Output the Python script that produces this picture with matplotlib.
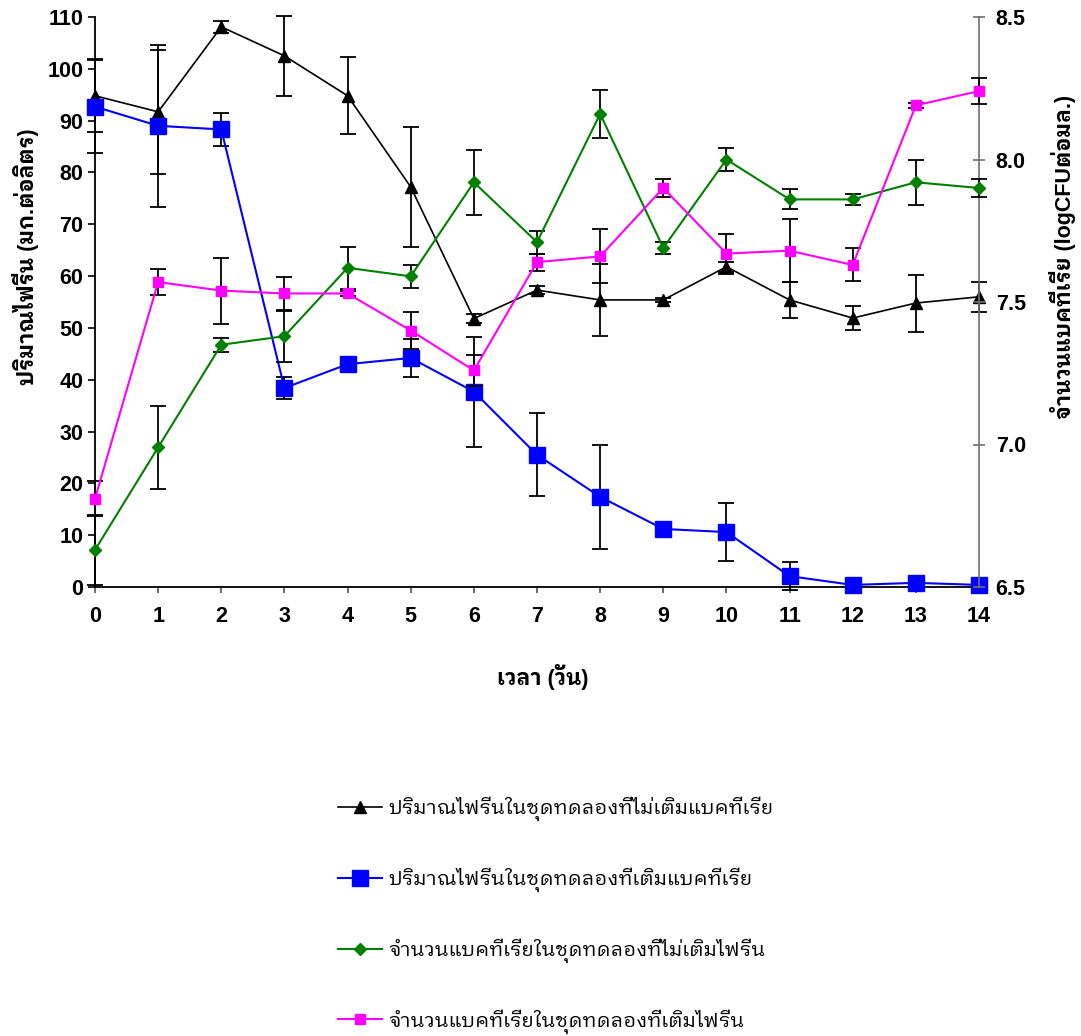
import matplotlib
matplotlib.use("Agg")
import matplotlib.pyplot as plt
from matplotlib.lines import Line2D
from matplotlib.ticker import MultipleLocator, FormatStrFormatter

# ---------------- data ----------------
days = list(range(15))
fibrin_no_bact = [94.8, 91.7, 108.1, 102.5, 94.8, 77.2, 51.8, 57.3, 55.4, 55.4, 61.8, 55.4, 51.9, 54.8, 56.0]
fibrin_no_bact_err = [7.0, 12.0, 1.2, 7.7, 7.4, 11.5, 0.8, 0.8, 7.0, 0.4, 1.0, 3.5, 2.3, 5.5, 2.9]
fibrin_bact = [92.7, 89.0, 88.3, 38.4, 43.0, 44.2, 37.7, 25.5, 17.4, 11.2, 10.6, 2.1, 0.4, 0.8, 0.4]
fibrin_bact_err = [9.0, 15.6, 3.2, 2.1, 1.0, 3.7, 10.6, 8.0, 10.0, 0.3, 5.6, 2.7, 0.2, 0.2, 0.2]
bact_no_fibrin = [6.63, 6.99, 7.35, 7.38, 7.62, 7.59, 7.92, 7.71, 8.16, 7.69, 8.00, 7.86, 7.86, 7.92, 7.90]
bact_no_fibrin_err = [0.124, 0.146, 0.025, 0.09, 0.073, 0.04, 0.115, 0.04, 0.085, 0.02, 0.042, 0.035, 0.02, 0.078, 0.033]
bact_fibrin = [6.81, 7.57, 7.54, 7.53, 7.53, 7.40, 7.26, 7.64, 7.66, 7.90, 7.67, 7.68, 7.63, 8.19, 8.24]
bact_fibrin_err = [0.062, 0.047, 0.116, 0.057, 0.01, 0.064, 0.055, 0.03, 0.095, 0.03, 0.07, 0.11, 0.058, 0.01, 0.045]

labels = [
    "ปริมาณไฟรีนในชุดทดลองที่ไม่เติมแบคทีเรีย",
    "ปริมาณไฟรีนในชุดทดลองที่เติมแบคทีเรีย",
    "จำนวนแบคทีเรียในชุดทดลองที่ไม่เติมไฟรีน",
    "จำนวนแบคทีเรียในชุดทดลองที่เติมไฟรีน",
]
xlabel = "เวลา (วัน)"
ylabel_left = "ปริมาณไฟรีน (มก.ต่อลิตร)"
ylabel_right = "จำนวนแบคทีเรีย (logCFUต่อมล.)"

FAM = ["Liberation Sans", "IBM Plex Sans Thai Looped", "DejaVu Sans"]
plt.rcParams["font.family"] = FAM

fig = plt.figure(figsize=(10.81, 10.36), dpi=100)
L, R, B, T = 95 / 1081, 979 / 1081, 1 - 587 / 1036, 1 - 17 / 1036
ax = fig.add_axes([L, B, R - L, T - B])
ax2 = ax.twinx()

ekw = dict(ecolor="black", elinewidth=1.3, capsize=5.5, capthick=1.3, clip_on=False)

# left axis series
e1 = ax.errorbar(days, fibrin_no_bact, yerr=fibrin_no_bact_err, color="black", lw=1.2,
                 marker="^", ms=9, mfc="black", mec="black", zorder=3, **ekw)
e2 = ax.errorbar(days, fibrin_bact, yerr=fibrin_bact_err, color="#0000FF", lw=1.5,
                 marker="s", ms=11, mfc="#0000FF", mec="#0000FF", zorder=3, **ekw)
# right axis series
e3 = ax2.errorbar(days, bact_no_fibrin, yerr=bact_no_fibrin_err, color="#008000", lw=1.5,
                  marker="D", ms=6.5, mfc="#008000", mec="#008000", zorder=3, **ekw)
e4 = ax2.errorbar(days, bact_fibrin, yerr=bact_fibrin_err, color="#FF00FF", lw=1.5,
                  marker="s", ms=7.5, mfc="#FF00FF", mec="#FF00FF", zorder=3, **ekw)
for e in (e1, e2, e3, e4):
    for art in e.get_children():
        art.set_clip_on(False)
    e[0].set_clip_on(False)

ax.set_xlim(0, 14)
ax.set_ylim(0, 110)
ax2.set_ylim(6.5, 8.5)
ax.xaxis.set_major_locator(MultipleLocator(1))
ax.yaxis.set_major_locator(MultipleLocator(10))
ax2.yaxis.set_major_locator(MultipleLocator(0.5))
ax2.yaxis.set_major_formatter(FormatStrFormatter("%.1f"))

for a in (ax, ax2):
    a.spines["top"].set_visible(False)
    a.patch.set_visible(False)
ax.spines["right"].set_visible(False)
ax2.spines["left"].set_visible(False)
ax2.spines["bottom"].set_visible(False)
ax2.spines["right"].set_color("#707070")
ax2.spines["right"].set_linewidth(1.2)
ax.spines["left"].set_linewidth(1.3)
ax.spines["bottom"].set_linewidth(1.3)

ax.tick_params(axis="y", direction="out", length=5, width=1.2, pad=3.5)
ax.tick_params(axis="x", direction="out", length=4, width=1.2, color="#555555", pad=10)
ax2.tick_params(axis="y", direction="inout", length=9, width=1.2, color="#707070", pad=7.5)
for lab in ax.get_xticklabels() + ax.get_yticklabels() + ax2.get_yticklabels():
    lab.set_fontfamily(FAM)
    lab.set_fontweight("bold")
    lab.set_fontsize(15.5)

# axis titles
fig.text(26 / 1081, 1 - 257 / 1036, ylabel_left, rotation=90, ha="center", va="center",
         fontsize=15.5, fontweight="bold", family=FAM)
fig.text(1062 / 1081, 1 - 257 / 1036, ylabel_right, rotation=90, ha="center", va="center",
         fontsize=15.5, fontweight="bold", family=FAM)
fig.text(543 / 1081, 1 - 677 / 1036, xlabel, ha="center", va="center",
         fontsize=15.5, fontweight="bold", family=FAM)

# legend
handles = [
    Line2D([], [], color="black", lw=1.2, marker="^", ms=9, mfc="black", mec="black"),
    Line2D([], [], color="#0000FF", lw=1.5, marker="s", ms=11, mfc="#0000FF", mec="#0000FF"),
    Line2D([], [], color="#008000", lw=1.5, marker="D", ms=6.5, mfc="#008000", mec="#008000"),
    Line2D([], [], color="#FF00FF", lw=1.5, marker="s", ms=7.5, mfc="#FF00FF", mec="#FF00FF"),
]
fig.legend(handles, labels, loc="center left", bbox_to_anchor=(338 / 1081, 1 - 915 / 1036),
           frameon=False, prop=dict(family=FAM, size=14.5), handlelength=2.2,
           handletextpad=0.3, labelspacing=2.3, borderpad=0, borderaxespad=0)

fig.savefig("out.png", dpi=100)
